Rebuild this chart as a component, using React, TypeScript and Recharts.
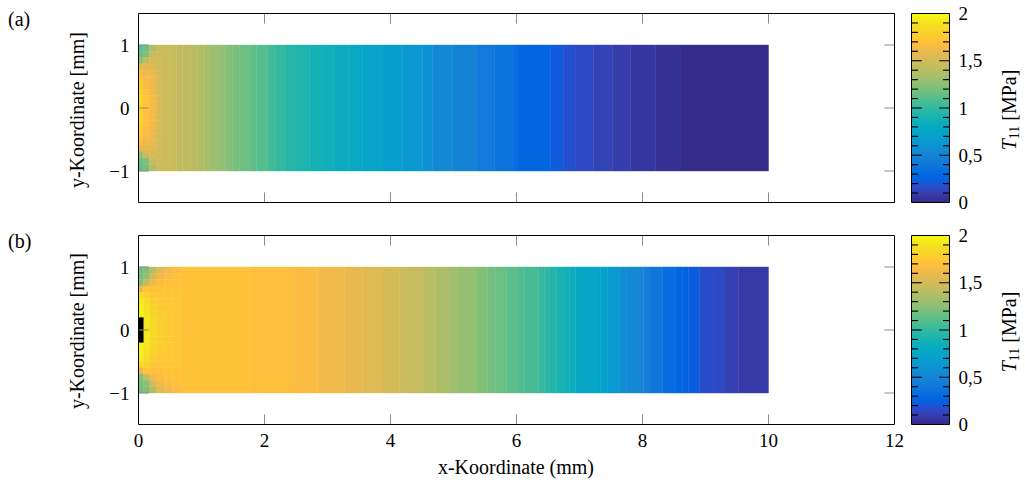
import { ComposedChart, XAxis, YAxis, ReferenceArea } from "recharts";

// row boundaries of the refined mesh near the loaded edge (top -> bottom)
const rowEdges = [1, 0.9, 0.8, 0.7, 0.6, 0.5, 0.4, 0.3, 0.2, 0.1, 0, -0.1, -0.2, -0.3, -0.4, -0.5, -0.6, -0.7, -0.8, -0.9, -1];

// panel (a): columns with y-variation near x = 0
const edgeColsA = [0, 0.07, 0.17, 0.28, 0.37];
const edgeProfilesA = [
  [1.12, 1.14, 1.25, 1.58, 1.68, 1.73, 1.77, 1.8, 1.82, 1.83, 1.83, 1.82, 1.8, 1.77, 1.73, 1.68, 1.58, 1.25, 1.14, 1.12],
  [1.18, 1.22, 1.45, 1.57, 1.62, 1.65, 1.67, 1.69, 1.7, 1.71, 1.71, 1.7, 1.69, 1.67, 1.65, 1.62, 1.57, 1.45, 1.22, 1.18],
  [1.36, 1.45, 1.52, 1.56, 1.59, 1.61, 1.62, 1.63, 1.64, 1.64, 1.64, 1.64, 1.63, 1.62, 1.61, 1.59, 1.56, 1.52, 1.45, 1.36],
  [1.46, 1.47, 1.48, 1.49, 1.5, 1.51, 1.52, 1.52, 1.53, 1.53, 1.53, 1.53, 1.52, 1.52, 1.51, 1.5, 1.49, 1.48, 1.47, 1.46],
];
// panel (a): full-height columns
const colEdgesA = [0.37, 0.49, 0.6, 0.7, 0.83, 0.94, 1.05, 1.15, 1.26, 1.36, 1.49, 1.6, 1.76, 1.87, 2.05, 2.18, 2.34, 2.5, 2.71, 2.93, 3.09, 3.35, 3.56, 3.88, 4.19, 4.51, 4.67, 4.99, 5.36, 5.65, 5.93, 6.04, 6.54, 6.74, 6.93, 7.22, 7.52, 7.81, 8.21, 8.61, 10];
const colValuesA = [1.48, 1.46, 1.44, 1.43, 1.41, 1.38, 1.34, 1.3, 1.27, 1.24, 1.2, 1.17, 1.13, 1.1, 1.05, 1.0, 0.96, 0.93, 0.89, 0.86, 0.83, 0.79, 0.74, 0.7, 0.64, 0.59, 0.54, 0.49, 0.42, 0.37, 0.33, 0.27, 0.22, 0.18, 0.15, 0.12, 0.09, 0.065, 0.03, 0.005];

// panel (b)
const edgeColsB = [0, 0.08, 0.18, 0.29, 0.41, 0.54, 0.67];
const edgeProfilesB = [
  [1.17, 1.19, 1.22, 1.6, 1.85, 1.93, 1.96, 1.97, 1.98, 1.98, 1.98, 1.98, 1.97, 1.96, 1.93, 1.85, 1.6, 1.22, 1.19, 1.17],
  [1.22, 1.26, 1.45, 1.72, 1.8, 1.86, 1.89, 1.91, 1.92, 1.92, 1.92, 1.92, 1.91, 1.89, 1.86, 1.8, 1.72, 1.45, 1.26, 1.22],
  [1.4, 1.5, 1.62, 1.7, 1.74, 1.78, 1.81, 1.83, 1.84, 1.85, 1.85, 1.84, 1.83, 1.81, 1.78, 1.74, 1.7, 1.62, 1.5, 1.4],
  [1.55, 1.62, 1.68, 1.71, 1.73, 1.75, 1.77, 1.78, 1.79, 1.79, 1.79, 1.79, 1.78, 1.77, 1.75, 1.73, 1.71, 1.68, 1.62, 1.55],
  [1.62, 1.66, 1.7, 1.72, 1.73, 1.74, 1.75, 1.76, 1.76, 1.76, 1.76, 1.76, 1.76, 1.75, 1.74, 1.73, 1.72, 1.7, 1.66, 1.62],
  [1.66, 1.69, 1.71, 1.72, 1.73, 1.73, 1.74, 1.74, 1.74, 1.74, 1.74, 1.74, 1.74, 1.74, 1.73, 1.73, 1.72, 1.71, 1.69, 1.66],
];
const colEdgesB = [0.67, 1.76, 2.47, 2.86, 3.27, 3.56, 3.88, 4.14, 4.25, 4.51, 4.72, 4.93, 5.07, 5.36, 5.54, 5.67, 5.84, 6.04, 6.13, 6.35, 6.44, 6.53, 6.64, 6.74, 6.84, 6.94, 7.04, 7.33, 7.44, 7.63, 7.74, 7.93, 8.02, 8.12, 8.32, 8.53, 8.63, 8.73, 8.91, 9.12, 9.31, 9.52, 10];
const colValuesB = [1.71, 1.69, 1.66, 1.62, 1.59, 1.55, 1.5, 1.47, 1.45, 1.41, 1.36, 1.32, 1.28, 1.23, 1.18, 1.16, 1.12, 1.09, 1.06, 1.02, 0.98, 0.95, 0.91, 0.87, 0.83, 0.79, 0.75, 0.7, 0.65, 0.57, 0.54, 0.5, 0.46, 0.41, 0.32, 0.27, 0.25, 0.23, 0.17, 0.15, 0.11, 0.08];
// support block at the left edge of (b), drawn black
const blockB = { x: [0, 0.08], y: [-0.2, 0.2] };

const xTicks = [0, 2, 4, 6, 8, 10, 12];
const yTicks = [-1, 0, 1];
const cbTicks = [0, 0.1, 0.2, 0.3, 0.4, 0.5, 0.6, 0.7, 0.8, 0.9, 1, 1.1, 1.2, 1.3, 1.4, 1.5, 1.6, 1.7, 1.8, 1.9, 2];
const cbMajor = [0, 0.5, 1, 1.5, 2];

// MATLAB parula, 64 entries
const PARULA = [
  [0.2081, 0.1663, 0.5292], [0.2116, 0.1898, 0.5777], [0.2123, 0.2138, 0.627], [0.2081, 0.2386, 0.6771],
  [0.1959, 0.2645, 0.7279], [0.1707, 0.2919, 0.7792], [0.1253, 0.3242, 0.8303], [0.0591, 0.3598, 0.8683],
  [0.0117, 0.3875, 0.882], [0.006, 0.4086, 0.8828], [0.0165, 0.4266, 0.8786], [0.0329, 0.443, 0.872],
  [0.0498, 0.4586, 0.8641], [0.0629, 0.4737, 0.8554], [0.0723, 0.4887, 0.8467], [0.0779, 0.504, 0.8384],
  [0.0793, 0.52, 0.8312], [0.0749, 0.5375, 0.8263], [0.0641, 0.557, 0.824], [0.0488, 0.5772, 0.8228],
  [0.0343, 0.5966, 0.8199], [0.0265, 0.6137, 0.8135], [0.0239, 0.6287, 0.8038], [0.0231, 0.6418, 0.7913],
  [0.0228, 0.6535, 0.7768], [0.0267, 0.6642, 0.7607], [0.0384, 0.6743, 0.7436], [0.059, 0.6838, 0.7254],
  [0.0843, 0.6928, 0.7062], [0.1133, 0.7015, 0.6859], [0.1453, 0.7098, 0.6646], [0.1801, 0.7177, 0.6424],
  [0.2178, 0.725, 0.6193], [0.2586, 0.7317, 0.5954], [0.3022, 0.7376, 0.5712], [0.3482, 0.7424, 0.5473],
  [0.3953, 0.7459, 0.5244], [0.442, 0.7481, 0.5033], [0.4871, 0.7491, 0.484], [0.53, 0.7491, 0.4661],
  [0.5709, 0.7485, 0.4494], [0.6099, 0.7473, 0.4337], [0.6473, 0.7456, 0.4188], [0.6834, 0.7435, 0.4044],
  [0.7184, 0.7411, 0.3905], [0.7525, 0.7384, 0.3768], [0.7858, 0.7356, 0.3633], [0.8185, 0.7327, 0.3498],
  [0.8507, 0.7299, 0.336], [0.8824, 0.7274, 0.3217], [0.9139, 0.7258, 0.3063], [0.945, 0.7261, 0.2886],
  [0.9739, 0.7314, 0.2666], [0.9938, 0.7455, 0.2403], [0.999, 0.7653, 0.2164], [0.9955, 0.7861, 0.1967],
  [0.988, 0.8066, 0.1794], [0.9789, 0.8271, 0.1633], [0.9697, 0.8481, 0.1475], [0.9626, 0.8705, 0.1309],
  [0.9589, 0.8949, 0.1132], [0.9598, 0.9218, 0.0948], [0.9661, 0.9514, 0.0755], [0.9763, 0.9831, 0.0538],
];

const toRgb = (c: number[]) => `rgb(${Math.round(c[0] * 255)},${Math.round(c[1] * 255)},${Math.round(c[2] * 255)})`;

const parula = (v: number) => {
  const t = Math.min(1, Math.max(0, v / 2)) * (PARULA.length - 1);
  const i = Math.min(PARULA.length - 2, Math.floor(t));
  const f = t - i;
  return toRgb(PARULA[i].map((c, k) => c + (PARULA[i + 1][k] - c) * f));
};

type Cell = { x1: number; x2: number; y1: number; y2: number; v: number };
type Box = { x1: number; x2: number; y1: number; y2: number; fill: string };

const buildCells = (edgeCols: number[], profiles: number[][], colEdges: number[], colValues: number[]) => {
  const cells: Cell[] = [];
  profiles.forEach((prof, c) =>
    prof.forEach((v, r) => cells.push({ x1: edgeCols[c], x2: edgeCols[c + 1], y1: rowEdges[r + 1], y2: rowEdges[r], v }))
  );
  colValues.forEach((v, c) =>
    cells.push({ x1: colEdges[c], x2: colEdges[c + 1], y1: rowEdges[rowEdges.length - 1], y2: rowEdges[0], v })
  );
  return cells;
};

const cellsA = buildCells(edgeColsA, edgeProfilesA, colEdgesA, colValuesA);
const cellsB = buildCells(edgeColsB, edgeProfilesB, colEdgesB, colValuesB);
const cbData = cbTicks.map((v) => ({ x: 0.5, v }));

const FONT = "'Liberation Serif', 'DejaVu Serif', serif";
const TICK_GRAY = "#8c8c8c";
const LABEL_SIZE = 19;
// tick marks drawn as thin areas, sizes in axis units (plot: 63 px per mm; colour bar: 38 px wide, 94.5 px per MPa)
const TICK_MM = 0.16;
const TICK_HALF = 0.008;
const CB_MAJOR = 0.27;
const CB_MINOR = 0.17;
const CB_HALF = 0.006;

// inward tick marks of the main panels (the ones at x = 0 and 12 sit on the frame)
const panelMarks: Box[] = [
  ...xTicks.slice(1, -1).flatMap((t) => [
    { x1: t - TICK_HALF, x2: t + TICK_HALF, y1: -1.5, y2: -1.5 + TICK_MM, fill: TICK_GRAY },
    { x1: t - TICK_HALF, x2: t + TICK_HALF, y1: 1.5 - TICK_MM, y2: 1.5, fill: TICK_GRAY },
  ]),
  ...yTicks.flatMap((t) => [
    { x1: 0, x2: TICK_MM, y1: t - TICK_HALF, y2: t + TICK_HALF, fill: TICK_GRAY },
    { x1: 12 - TICK_MM, x2: 12, y1: t - TICK_HALF, y2: t + TICK_HALF, fill: TICK_GRAY },
  ]),
];
// colour bar ticks on both sides
const cbMarks: Box[] = cbTicks.slice(1, -1).flatMap((t) => {
  const len = cbMajor.includes(t) ? CB_MAJOR : CB_MINOR;
  return [
    { x1: 0, x2: len, y1: t - CB_HALF, y2: t + CB_HALF, fill: "#000" },
    { x1: 1 - len, x2: 1, y1: t - CB_HALF, y2: t + CB_HALF, fill: "#000" },
  ];
});

const fmt = (v: number) => String(v).replace("-", "\u2212").replace(".", ",");

const BottomLabel = (p: any) => (
  <text x={p.x} y={p.y + 22} textAnchor="middle" fontSize={LABEL_SIZE} fontFamily={FONT} fill="#000">
    {fmt(p.payload.value)}
  </text>
);
const LeftLabel = (p: any) => (
  <text x={p.x - 9} y={p.y} dy="0.35em" textAnchor="end" fontSize={LABEL_SIZE} fontFamily={FONT} fill="#000">
    {fmt(p.payload.value)}
  </text>
);
const CbLabel = (p: any) => {
  const v = p.payload.value;
  if (!cbMajor.includes(v)) return <g />;
  return (
    <text x={p.x + 9} y={p.y} dy="0.35em" textAnchor="start" fontSize={LABEL_SIZE} fontFamily={FONT} fill="#000">
      {fmt(v)}
    </text>
  );
};

// axes take 1px each, so margins are 1px less than the frame position
const axisCommon = { type: "number" as const, interval: 0, tickSize: 0, tickMargin: 0, tickLine: false };

type PanelProps = {
  top: number;
  height: number;
  mTop: number;
  mBottom: number;
  cells: Cell[];
  showXLabels: boolean;
  block?: { x: number[]; y: number[] };
  frame: boolean; // false: heatmap + tick marks, true: frame and labels drawn on top
};

const Panel = ({ top, height, mTop, mBottom, cells, showXLabels, block, frame }: PanelProps) => {
  const line = frame ? { stroke: "#000" } : false;
  return (
    <div style={{ position: "absolute", left: 0, top }}>
      <ComposedChart width={1025} height={height} data={cells} margin={{ top: mTop - 1, bottom: mBottom - 1, left: 137.5, right: 129.5 }}>
        {!frame &&
          cells.map((c, i) => (
            <ReferenceArea
              key={`c${i}`}
              x1={c.x1}
              x2={c.x2}
              y1={c.y1}
              y2={c.y2}
              fill={parula(c.v)}
              fillOpacity={1}
              stroke={parula(c.v)}
              strokeWidth={0.4}
            />
          ))}
        {!frame && block && (
          <ReferenceArea x1={block.x[0]} x2={block.x[1]} y1={block.y[0]} y2={block.y[1]} fill="#000" fillOpacity={1} stroke="none" />
        )}
        {!frame &&
          panelMarks.map((m, i) => (
            <ReferenceArea key={`m${i}`} x1={m.x1} x2={m.x2} y1={m.y1} y2={m.y2} fill={m.fill} fillOpacity={1} stroke="none" />
          ))}
        <XAxis {...axisCommon} axisLine={line} dataKey="x1" domain={[0, 12]} ticks={xTicks} height={1} tick={frame && showXLabels ? BottomLabel : false} />
        <XAxis {...axisCommon} axisLine={line} xAxisId="t" orientation="top" dataKey="x1" domain={[0, 12]} ticks={xTicks} height={1} tick={false} />
        <YAxis {...axisCommon} axisLine={line} dataKey="y1" domain={[-1.5, 1.5]} ticks={yTicks} width={1} tick={frame ? LeftLabel : false} />
        <YAxis {...axisCommon} axisLine={line} yAxisId="r" orientation="right" dataKey="y1" domain={[-1.5, 1.5]} ticks={yTicks} width={1} tick={false} />
      </ComposedChart>
    </div>
  );
};

const ColorBar = ({ top, height, mTop, mBottom, frame }: { top: number; height: number; mTop: number; mBottom: number; frame: boolean }) => {
  const line = frame ? { stroke: "#000" } : false;
  return (
    <div style={{ position: "absolute", left: 900, top }}>
      <ComposedChart width={125} height={height} data={cbData} margin={{ top: mTop - 1, bottom: mBottom - 1, left: 10.5, right: 74.5 }}>
        {!frame && <ReferenceArea x1={0} x2={1} y1={0} y2={2} fill="url(#parulaGrad)" fillOpacity={1} stroke="none" />}
        {!frame &&
          cbMarks.map((m, i) => (
            <ReferenceArea key={`m${i}`} x1={m.x1} x2={m.x2} y1={m.y1} y2={m.y2} fill={m.fill} fillOpacity={1} stroke="none" />
          ))}
        <XAxis {...axisCommon} axisLine={line} dataKey="x" domain={[0, 1]} height={1} tick={false} />
        <XAxis {...axisCommon} axisLine={line} xAxisId="t" orientation="top" dataKey="x" domain={[0, 1]} height={1} tick={false} />
        <YAxis {...axisCommon} axisLine={line} dataKey="v" domain={[0, 2]} ticks={cbTicks} width={1} tick={false} />
        <YAxis {...axisCommon} axisLine={line} yAxisId="r" orientation="right" dataKey="v" domain={[0, 2]} ticks={cbTicks} width={1} tick={frame ? CbLabel : false} />
      </ComposedChart>
    </div>
  );
};

const textBase: React.CSSProperties = {
  position: "absolute",
  fontFamily: FONT,
  fontSize: 20,
  color: "#000",
  whiteSpace: "nowrap",
  lineHeight: 1,
};

const VLabel = ({ x, y, children }: { x: number; y: number; children: React.ReactNode }) => (
  <div style={{ ...textBase, left: x, top: y, transform: "translate(-50%, -50%) rotate(-90deg)" }}>{children}</div>
);

const T11 = () => (
  <span>
    <i>T</i>
    <sub style={{ fontSize: 14, verticalAlign: "-3px" }}>11</sub> [MPa]
  </span>
);

const panelA = { top: 0, height: 230, mTop: 13.5, mBottom: 27.5 };
const panelB = { top: 215, height: 270, mTop: 20.5, mBottom: 60.5 };

export default function App() {
  return (
    <div style={{ position: "absolute", left: 0, top: 0, width: 1025, height: 485, background: "#fff", overflow: "hidden" }}>
      <svg width={0} height={0} style={{ position: "absolute" }}>
        <defs>
          <linearGradient id="parulaGrad" x1="0" y1="1" x2="0" y2="0">
            {PARULA.map((c, i) => (
              <stop key={i} offset={i / (PARULA.length - 1)} stopColor={toRgb(c)} />
            ))}
          </linearGradient>
        </defs>
      </svg>

      <Panel {...panelA} cells={cellsA} showXLabels={false} frame={false} />
      <Panel {...panelB} cells={cellsB} showXLabels={true} block={blockB} frame={false} />
      <ColorBar {...panelA} frame={false} />
      <ColorBar {...panelB} frame={false} />
      <Panel {...panelA} cells={cellsA} showXLabels={false} frame={true} />
      <Panel {...panelB} cells={cellsB} showXLabels={true} frame={true} />
      <ColorBar {...panelA} frame={true} />
      <ColorBar {...panelB} frame={true} />

      <div style={{ ...textBase, left: 8, top: 9 }}>(a)</div>
      <div style={{ ...textBase, left: 8, top: 231 }}>(b)</div>
      <VLabel x={77} y={110}>y-Koordinate [mm]</VLabel>
      <VLabel x={77} y={331}>y-Koordinate [mm]</VLabel>
      <VLabel x={1010} y={110}>
        <T11 />
      </VLabel>
      <VLabel x={1010} y={332}>
        <T11 />
      </VLabel>
      <div style={{ ...textBase, left: 516, top: 467, transform: "translate(-50%, -50%)" }}>x-Koordinate (mm)</div>
    </div>
  );
}
